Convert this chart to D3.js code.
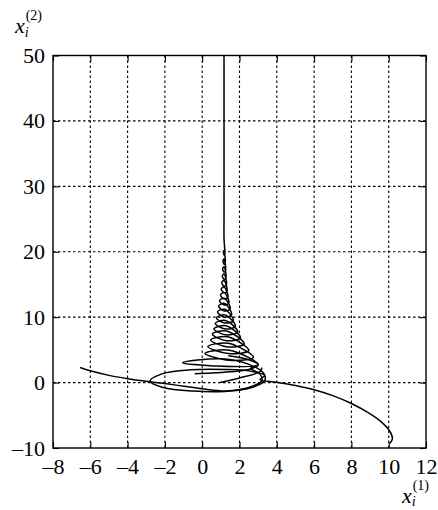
<!DOCTYPE html>
<html>
<head>
<meta charset="utf-8">
<script src="https://cdn.jsdelivr.net/npm/d3@7"></script>
<style>
  body { margin: 0; background: #fff; }
</style>
</head>
<body>
<svg id="chart" width="438" height="510"></svg>
<script>
const serif = 'Liberation Serif';

// tick values
const xTicks = [-8, -6, -4, -2, 0, 2, 4, 6, 8, 10, 12];
const yTicks = [-10, 0, 10, 20, 30, 40, 50];

// trajectory coming in from the lower right, spirals up the cone to the top
const trajRight = [
  [10.05, -9.3], [10.2, -8.6], [10.05, -7.4], [9.6, -6.0], [8.9, -4.6], [8.0, -3.2],
  [7.0, -2.0], [6.0, -1.1], [5.0, -0.45], [4.0, 0.05], [3.1, 0.45],
  [3.35, 1.1], [2.6, 1.75], [1.2, 2.0], [-0.6, 1.95], [-2.2, 1.3], [-2.8, 0.2],
  [-2.1, -0.75], [-0.5, -1.3], [1.2, -1.35], [2.6, -0.8], [3.35, 0.3], [3.3, 1.4],
  [2.4, 2.9], [1.0, 3.65], [-1.05, 3.05], [0.6, 2.55], [3.0, 2.75],
  [1.45, 4.95], [0.15, 4.45], [1.45, 3.4], [2.75, 3.85],
  [1.4, 6.0], [0.3, 5.5], [1.4, 4.45], [2.5, 4.9],
  [1.35, 7.0], [0.45, 6.5], [1.35, 5.45], [2.25, 5.9],
  [1.3, 7.9], [0.55, 7.4], [1.3, 6.4], [2.05, 6.85],
  [1.27, 8.7], [0.63, 8.2], [1.27, 7.3], [1.9, 7.75],
  [1.24, 9.5], [0.7, 9.05], [1.24, 8.2], [1.78, 8.6],
  [1.22, 10.35], [0.76, 9.9], [1.22, 9.1], [1.67, 9.5],
  [1.2, 11.2], [0.82, 10.8], [1.2, 10.0], [1.58, 10.4],
  [1.19, 12.1], [0.88, 11.7], [1.19, 10.95], [1.5, 11.3],
  [1.18, 12.9], [0.93, 12.5], [1.18, 11.85], [1.43, 12.2],
  [1.18, 13.75], [0.98, 13.4], [1.18, 12.8], [1.38, 13.1],
  [1.17, 14.6], [1.02, 14.3], [1.17, 13.75], [1.33, 14.0],
  [1.17, 15.6], [1.05, 15.3], [1.17, 14.75], [1.3, 15.0],
  [1.17, 16.6], [1.08, 16.3], [1.17, 15.8], [1.27, 16.0],
  [1.17, 17.7], [1.1, 17.4], [1.17, 16.9], [1.25, 17.1],
  [1.17, 18.9], [1.12, 18.6], [1.17, 18.1], [1.23, 18.3],
  [1.17, 20.2], [1.14, 20.0], [1.17, 19.5], [1.21, 19.7],
  [1.17, 22], [1.17, 25], [1.17, 35], [1.17, 50]
];

// trajectory coming in from the left
const trajLeft = [
  [-6.55, 2.3], [-6.0, 1.8], [-5.0, 1.1], [-4.0, 0.6], [-3.0, 0.2], [-2.0, -0.15],
  [-1.0, -0.55], [0.0, -0.95], [1.3, -1.28], [2.5, -0.75], [3.2, 0.3], [3.1, 1.3],
  [2.6, 2.2], [3.0, 2.7], [2.5, 3.5], [1.4, 4.1]
];

// short trajectories starting inside the spiral
const trajInner1 = [[-0.4, 1.35], [0.5, 1.45], [1.5, 1.65], [2.5, 2.0], [3.0, 2.6]];
const trajInner2 = [[0.95, 0.0], [2.0, 0.7], [3.1, 1.7], [3.2, 2.3]];

const trajectories = [trajRight, trajLeft, trajInner1, trajInner2];

const svg = d3.select('#chart');
const plotL = 53, plotR = 426, plotT = 55.5, plotB = 448;

const x = d3.scaleLinear().domain([-8, 12]).range([plotL, plotR]);
const y = d3.scaleLinear().domain([-10, 50]).range([plotB, plotT]);

// dotted grid
const grid = svg.append('g')
    .attr('stroke', '#000')
    .attr('stroke-width', 1.1)
    .attr('stroke-dasharray', '2.5,2.5');
grid.selectAll('.gx')
    .data(xTicks.slice(1, -1))
    .enter()
    .append('line')
    .attr('x1', d => x(d)).attr('x2', d => x(d))
    .attr('y1', plotT).attr('y2', plotB);
grid.selectAll('.gy')
    .data(yTicks.slice(1, -1))
    .enter()
    .append('line')
    .attr('y1', d => y(d)).attr('y2', d => y(d))
    .attr('x1', plotL).attr('x2', plotR);

// axes with inward ticks on all four sides
const fmt = d => (d < 0 ? '\u2013' + Math.abs(d) : String(d));
const xAxis = svg.append('g')
    .attr('transform', 'translate(0,' + plotB + ')')
    .call(d3.axisBottom(x).tickValues(xTicks).tickSizeInner(-6).tickSizeOuter(0).tickPadding(10).tickFormat(fmt));
const yAxis = svg.append('g')
    .attr('transform', 'translate(' + plotL + ',0)')
    .call(d3.axisLeft(y).tickValues(yTicks).tickSizeInner(-6).tickSizeOuter(0).tickPadding(8).tickFormat(fmt));
svg.append('g')
    .attr('transform', 'translate(0,' + plotT + ')')
    .call(d3.axisTop(x).tickValues(xTicks).tickSizeInner(-6).tickSizeOuter(0).tickFormat(''));
svg.append('g')
    .attr('transform', 'translate(' + plotR + ',0)')
    .call(d3.axisRight(y).tickValues(yTicks).tickSizeInner(-6).tickSizeOuter(0).tickFormat(''));

svg.selectAll('.domain').remove();
svg.selectAll('.tick line').attr('stroke', '#000').attr('stroke-width', 1.1);
[xAxis, yAxis].forEach(a => {
    a.attr('font-family', serif).attr('font-size', 22);
    a.selectAll('text')
        .attr('font-family', serif)
        .attr('font-size', 22)
        .attr('fill', '#000');
});

// frame
svg.append('rect')
    .attr('x', plotL).attr('y', plotT)
    .attr('width', plotR - plotL).attr('height', plotB - plotT)
    .attr('fill', 'none')
    .attr('stroke', '#000')
    .attr('stroke-width', 1.4);

// trajectories
const line = d3.line()
    .x(d => x(d[0]))
    .y(d => y(d[1]))
    .curve(d3.curveCatmullRom.alpha(0.5));
svg.append('g')
    .selectAll('path')
    .data(trajectories)
    .enter()
    .append('path')
    .attr('d', line)
    .attr('fill', 'none')
    .attr('stroke', '#000')
    .attr('stroke-width', 1.5);

// axis labels
const yLab = svg.append('text').attr('x', 15).attr('y', 33)
    .attr('font-family', serif).attr('font-size', 22);
yLab.append('tspan').attr('font-style', 'italic').text('x');
yLab.append('tspan').attr('dy', 4).attr('font-style', 'italic').attr('font-size', 14).text('i');
yLab.append('tspan').attr('dx', -3).attr('dy', -17).attr('font-size', 14).text('(2)');

const xLab = svg.append('text').attr('x', 402).attr('y', 503)
    .attr('font-family', serif).attr('font-size', 22);
xLab.append('tspan').attr('font-style', 'italic').text('x');
xLab.append('tspan').attr('dy', 3).attr('font-style', 'italic').attr('font-size', 14).text('i');
xLab.append('tspan').attr('dx', -3).attr('dy', -16).attr('font-size', 14).text('(1)');
</script>
</body>
</html>
